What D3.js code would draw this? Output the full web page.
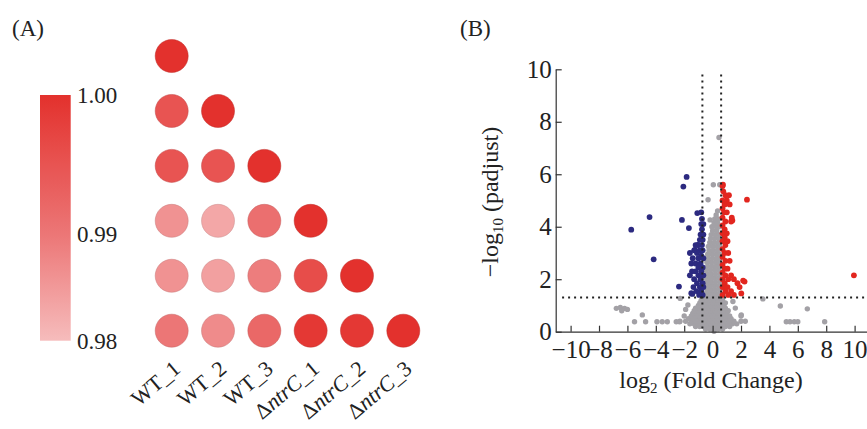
<!DOCTYPE html>
<meta charset="utf-8">
<script src="https://d3js.org/d3.v7.min.js"></script>
<style>
  body { margin: 0; background: #fff; }
  text { font-family: "Liberation Serif", "Times New Roman", serif; fill: #222; }
  .axis path, .axis line { stroke: #333; stroke-width: 1.2; }
  .axis text { font-size: 25px; font-family: "Liberation Serif", serif; fill: #222; }
</style>
<svg width="867" height="429"></svg>
<script>
// ---- panel A data ----
var samples = ["WT_1", "WT_2", "WT_3", "ntrC_1", "ntrC_2", "ntrC_3"];
// lower triangle of the correlation matrix, row by row
var corr = [
  [1.000],
  [0.995, 1.000],
  [0.995, 0.995, 1.000],
  [0.986, 0.983, 0.991, 1.000],
  [0.986, 0.984, 0.989, 0.996, 1.000],
  [0.990, 0.987, 0.992, 0.999, 0.999, 1.000]
];
var barTicks = [0.98, 0.99, 1.00];

// ---- panel B data: [log2 fold change, -log10 padjust] ----
var downGenes = [
  [-5.73,3.89],[-4.44,4.37],[-4.15,2.76],[-1.83,5.9],[-2.06,5.53],[-2.16,4.26],[-1.08,4.52],
  [-1.67,3.95],[-2.37,1.72],[-1.5,1.47],[-1.43,1.44],
  [-0.8,4.55],[-0.75,4.3],[-0.8,4.1],[-0.65,4.1],[-0.75,3.9],[-0.85,3.7],[-0.65,3.7],
  [-0.9,3.5],[-0.7,3.5],[-1.2,3.3],[-1.0,3.3],[-0.75,3.3],[-1.04,3.31],[-1.25,3.12],
  [-1.3,3.1],[-0.9,3.1],[-0.7,3.1],[-1.6,3.0],[-1.1,3.0],[-0.8,2.9],[-1.4,2.8],[-1.0,2.8],
  [-0.65,2.8],[-1.5,2.6],[-1.2,2.6],[-0.85,2.6],[-1.0,2.45],[-0.7,2.45],[-1.45,2.3],
  [-1.2,2.3],[-0.8,2.3],[-1.6,2.15],[-1.0,2.15],[-0.65,2.15],[-1.3,2.0],[-0.85,2.0],
  [-1.1,1.85],[-0.7,1.85],[-1.35,1.7],[-0.9,1.7],[-0.65,1.7],[-1.15,1.55],[-0.8,1.55],
  [-0.95,1.4],[-0.7,1.4]
];
var upGenes = [
  [0.73,5.6],[2.42,5.03],[9.95,2.15],[2.25,1.91],[2.02,1.46],[1.9,1.7],[1.39,4.24],[2.15,1.95],
  [0.7,5.55],[0.75,5.35],[0.9,5.2],[1.15,5.2],[0.7,5.0],[1.0,5.0],[0.85,4.85],[1.2,4.85],
  [0.7,4.7],[0.8,4.55],[1.0,4.55],[0.7,4.35],[1.35,4.35],[0.9,4.2],[1.3,4.2],[0.7,4.05],
  [0.85,3.9],[0.7,3.75],[1.0,3.75],[0.85,3.6],[0.7,3.45],[1.05,3.45],[0.9,3.3],[0.7,3.15],
  [0.85,3.0],[1.1,3.0],[0.7,2.85],[0.9,2.7],[1.2,2.7],[0.7,2.55],[0.85,2.4],[1.05,2.4],
  [0.7,2.25],[0.9,2.15],[1.3,2.15],[0.7,2.0],[1.1,2.0],[1.5,2.0],[0.85,1.85],[1.75,1.85],
  [0.7,1.7],[1.05,1.7],[0.9,1.55],[1.3,1.55],[0.7,1.4],[1.1,1.4],[1.5,1.4]
];
var otherGenes = [
  [0.1,0.02],
  [-0.5,0.1],[-0.2,0.1],[0.1,0.1],[0.4,0.1],[0.7,0.1],
  [-1.2,0.2],[-0.9,0.2],[-0.6,0.2],[-0.3,0.2],[0.0,0.2],[0.3,0.2],[0.6,0.2],[0.9,0.2],[1.2,0.2],
  [-1.6,0.3],[-1.3,0.3],[-1.0,0.3],[-0.7,0.3],[-0.4,0.3],[-0.1,0.3],[0.2,0.3],[0.5,0.3],[0.8,0.3],[1.1,0.3],[1.4,0.3],[1.7,0.3],
  [-2.3,0.4],[-1.9,0.4],[-1.5,0.4],[-1.2,0.4],[-0.9,0.4],[-0.6,0.4],[-0.3,0.4],[0.0,0.4],[0.3,0.4],[0.6,0.4],[0.9,0.4],[1.2,0.4],[1.5,0.4],[2.0,0.4],
  [-1.7,0.5],[-1.4,0.5],[-1.1,0.5],[-0.8,0.5],[-0.5,0.5],[-0.2,0.5],[0.1,0.5],[0.4,0.5],[0.7,0.5],[1.0,0.5],[1.3,0.5],
  [-1.5,0.6],[-1.2,0.6],[-0.9,0.6],[-0.6,0.6],[-0.3,0.6],[0.0,0.6],[0.3,0.6],[0.6,0.6],[0.9,0.6],[1.2,0.6],
  [-1.4,0.7],[-1.1,0.7],[-0.8,0.7],[-0.5,0.7],[-0.2,0.7],[0.1,0.7],[0.4,0.7],[0.7,0.7],[1.0,0.7],
  [-1.3,0.8],[-1.0,0.8],[-0.7,0.8],[-0.4,0.8],[-0.1,0.8],[0.2,0.8],[0.5,0.8],[0.8,0.8],[1.1,0.8],
  [-1.2,0.9],[-0.9,0.9],[-0.6,0.9],[-0.3,0.9],[0.0,0.9],[0.3,0.9],[0.6,0.9],[0.9,0.9],
  [-1.0,1.0],[-0.7,1.0],[-0.4,1.0],[-0.1,1.0],[0.2,1.0],[0.5,1.0],[0.8,1.0],
  [-0.9,1.1],[-0.6,1.1],[-0.3,1.1],[0.0,1.1],[0.3,1.1],[0.6,1.1],[0.9,1.1],
  [-0.8,1.2],[-0.5,1.2],[-0.2,1.2],[0.1,1.2],[0.4,1.2],[0.7,1.2],
  [-0.6,1.3],[-0.3,1.3],[0.0,1.3],[0.3,1.3],[0.55,1.3],
  [-0.5,1.45],[-0.2,1.45],[0.1,1.45],[0.4,1.45],
  [-0.4,1.6],[-0.1,1.6],[0.2,1.6],[0.5,1.6],
  [-0.5,1.75],[-0.2,1.75],[0.1,1.75],[0.4,1.75],
  [-0.4,1.9],[-0.1,1.9],[0.2,1.9],[0.5,1.9],
  [-0.5,2.05],[-0.2,2.05],[0.1,2.05],[0.4,2.05],
  [-0.4,2.2],[-0.1,2.2],[0.2,2.2],[0.5,2.2],
  [-0.45,2.35],[-0.15,2.35],[0.15,2.35],[0.45,2.35],
  [-0.35,2.5],[-0.05,2.5],[0.25,2.5],[0.5,2.5],
  [-0.4,2.65],[-0.1,2.65],[0.2,2.65],[0.45,2.65],
  [-0.3,2.8],[0.0,2.8],[0.3,2.8],[0.5,2.8],
  [-0.35,2.95],[-0.05,2.95],[0.25,2.95],[0.5,2.95],
  [-0.25,3.1],[0.05,3.1],[0.35,3.1],
  [-0.3,3.25],[0.0,3.25],[0.3,3.25],[0.5,3.25],
  [-0.2,3.4],[0.1,3.4],[0.4,3.4],
  [-0.15,3.55],[0.15,3.55],[0.45,3.55],
  [-0.1,3.7],[0.2,3.7],[0.45,3.7],
  [0.0,3.85],[0.3,3.85],
  [-0.05,4.0],[0.25,4.0],[0.5,4.0],
  [0.1,4.15],[0.35,4.15],
  [0.15,4.3],[0.4,4.3],
  [0.25,4.45],[0.35,4.6],
  [0.05,5.6],[0.5,5.6],[-0.32,5.03],[-0.18,4.26],[0.45,7.4],
  [-6.78,0.89],[-6.5,0.92],[-6.2,0.89],[-6.4,0.8],[-6.0,0.85],[-4.95,0.64],[-5.5,0.38],
  [-4.72,0.38],[-3.92,0.38],[-3.55,0.38],[-3.19,0.38],[-2.56,0.38],[-2.33,0.38],[-2.28,1.27],
  [-1.74,1.02],[-2.0,0.6],[-1.9,0.85],[4.77,0.98],[6.67,0.87],[5.19,0.38],[5.45,0.38],
  [5.75,0.38],[6.0,0.38],[7.89,0.38],[3.54,1.25],[2.0,0.6],[2.3,0.4],[1.43,1.15],
  [2.02,0.64],[1.2,0.4],[1.6,0.9]
];
var xTicks = [-10, -8, -6, -4, -2, 0, 2, 4, 6, 8, 10];
var yTicks = [0, 2, 4, 6, 8, 10];
var fcCut = [-0.72, 0.6];
var padjCut = 1.3;

var svg = d3.select("svg");

// ===== (A) correlation plot =====
svg.append("text").attr("x", 12).attr("y", 36).style("font-size", "23px").text("(A)");

var colX = d3.scalePoint().domain(samples).range([171.7, 403.3]);
var rowY = d3.scalePoint().domain(samples).range([56, 330.7]);
var color = d3.scaleLinear().domain([0.98, 0.99, 1.0])
  .range(["#f6bcbc", "#ec7676", "#e3312d"]);

var cells = [];
corr.forEach(function (row, i) {
  row.forEach(function (v, j) { cells.push({ r: samples[i], c: samples[j], v: v }); });
});

svg.append("g").selectAll("circle")
  .data(cells)
  .enter().append("circle")
  .attr("cx", function (d) { return colX(d.c); })
  .attr("cy", function (d) { return rowY(d.r); })
  .attr("r", 16.5)
  .attr("fill", function (d) { return color(d.v); })
  .attr("stroke", function (d) { return d3.color(color(d.v)).darker(0.5); })
  .attr("stroke-opacity", 0.5)
  .attr("stroke-width", 1);

// sample labels
var labs = svg.append("g").selectAll("text")
  .data(samples)
  .enter().append("text")
  .attr("text-anchor", "end")
  .attr("transform", function (d) { return "translate(" + (colX(d) + 10) + ",371) rotate(-40)"; })
  .style("font-size", "22px");
labs.each(function (d) {
  var t = d3.select(this);
  if (d.indexOf("ntrC") === 0) {
    t.append("tspan").text("\u0394");
    t.append("tspan").style("font-style", "italic").text("ntrC");
    t.append("tspan").text(d.slice(4));
  } else {
    t.text(d);
  }
});

// colour bar
var barY = d3.scaleLinear().domain([0.98, 0.99, 1.0]).range([340.7, 234, 95]);
var grad = svg.append("defs").append("linearGradient")
  .attr("id", "cbar").attr("x1", 0).attr("y1", 1).attr("x2", 0).attr("y2", 0);
grad.selectAll("stop")
  .data(d3.range(0, 21).map(function (k) { return 0.98 + k * 0.001; }))
  .enter().append("stop")
  .attr("offset", function (v) { return (340.7 - barY(v)) / (340.7 - 95); })
  .attr("stop-color", function (v) { return color(v); });
svg.append("rect")
  .attr("x", 40).attr("y", barY(1.0))
  .attr("width", 30.7).attr("height", barY(0.98) - barY(1.0))
  .attr("fill", "url(#cbar)");
svg.append("g").selectAll("text")
  .data(barTicks)
  .enter().append("text")
  .attr("x", 77)
  .attr("y", function (d) { return barY(d); })
  .attr("dy", "0.35em")
  .style("font-size", "23px")
  .text(d3.format(".2f"));

// ===== (B) volcano plot =====
svg.append("text").attr("x", 460).attr("y", 36).style("font-size", "23px").text("(B)");

var x = d3.scaleLinear().domain([-11.05, 11.5]).range([555.7, 555.7 + 22.55 * 14.2]);
var y = d3.scaleLinear().domain([0, 10]).range([331.7, 69.3]);

var dots = svg.append("g");
function addDots(data, fill, r) {
  dots.append("g").selectAll("circle")
    .data(data)
    .enter().append("circle")
    .attr("cx", function (d) { return x(d[0]); })
    .attr("cy", function (d) { return y(d[1]); })
    .attr("r", r)
    .attr("fill", fill);
}
addDots(otherGenes, "#a3a1a6", 2.7);
addDots(downGenes, "#2c2a80", 2.9);
addDots(upGenes, "#e2261f", 2.9);

// threshold lines
var dotted = svg.append("g")
  .attr("stroke", "#222").attr("stroke-width", 2).attr("stroke-dasharray", "2 4");
dotted.selectAll("line.v")
  .data(fcCut)
  .enter().append("line")
  .attr("x1", function (d) { return x(d); }).attr("x2", function (d) { return x(d); })
  .attr("y1", y(9.8)).attr("y2", y(0));
dotted.append("line")
  .attr("x1", x(-10.6)).attr("x2", 867)
  .attr("y1", y(padjCut)).attr("y2", y(padjCut));

svg.append("g").attr("class", "axis")
  .attr("transform", "translate(0," + y(0) + ")")
  .call(d3.axisBottom(x).tickValues(xTicks).tickSize(-6).tickSizeOuter(0).tickPadding(9)
    .tickFormat(function (d) { return d < 0 ? "\u2212" + (-d) : d; }));
svg.append("g").attr("class", "axis")
  .attr("transform", "translate(" + x(-11.05) + ",0)")
  .call(d3.axisLeft(y).tickValues(yTicks).tickSize(-6).tickSizeOuter(0).tickPadding(4));

var xt = svg.append("text")
  .attr("x", 711).attr("y", 388)
  .attr("text-anchor", "middle")
  .style("font-size", "24px");
xt.append("tspan").text("log");
xt.append("tspan").attr("dy", 5).style("font-size", "15px").text("2");
xt.append("tspan").attr("dy", -5).text(" (Fold Change)");

var yt = svg.append("text")
  .attr("transform", "translate(498,202) rotate(-90)")
  .attr("text-anchor", "middle")
  .style("font-size", "24px");
yt.append("tspan").text("\u2212log");
yt.append("tspan").attr("dy", 5).style("font-size", "15px").text("10");
yt.append("tspan").attr("dy", -5).text(" (padjust)");
</script>
